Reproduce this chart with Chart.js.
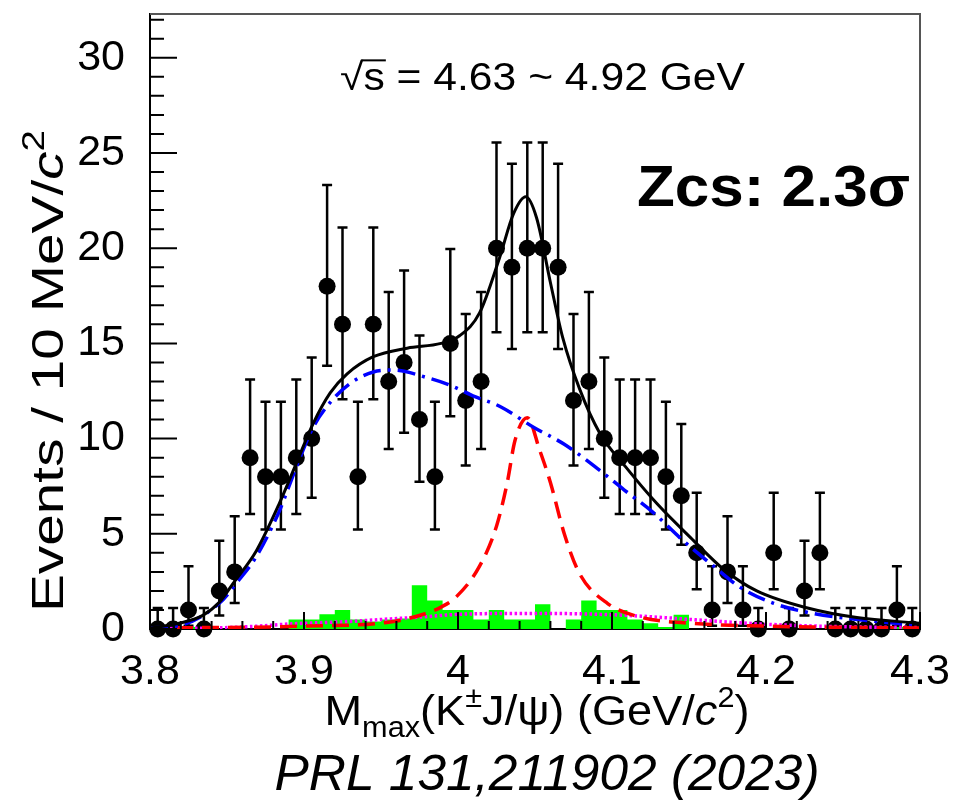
<!DOCTYPE html>
<html><head><meta charset="utf-8">
<script src="https://cdn.jsdelivr.net/npm/chart.js@4.4.1/dist/chart.umd.min.js"></script>
<style>html,body{margin:0;padding:0;background:#fff;}#wrap{width:955px;height:801px;}</style>
</head><body><div id="wrap"><canvas id="c" width="955" height="801"></canvas></div>
<script>
// ---------------- data ----------------
const binCenters = [3.805,3.815,3.825,3.835,3.845,3.855,3.865,3.875,3.885,3.895,
  3.905,3.915,3.925,3.935,3.945,3.955,3.965,3.975,3.985,3.995,
  4.005,4.015,4.025,4.035,4.045,4.055,4.065,4.075,4.085,4.095,
  4.105,4.115,4.125,4.135,4.145,4.155,4.165,4.175,4.185,4.195,
  4.205,4.215,4.225,4.235,4.245,4.255,4.265,4.275,4.285,4.295];
const counts = [0,0,1,0,2,3,9,8,8,9,
  10,18,16,8,16,13,14,11,8,15,
  12,13,20,19,20,20,19,12,13,10,
  9,9,9,8,7,4,1,3,1,0,
  4,0,2,4,0,0,0,0,1,0];
const errLow = [0,0,0.83,0,1.29,1.63,2.96,2.77,2.77,2.96,
  3.11,4.18,3.94,2.77,3.94,3.55,3.69,3.27,2.77,3.82,
  3.41,3.55,4.41,4.30,4.41,4.41,4.30,3.41,3.55,3.11,
  2.96,2.96,2.96,2.77,2.58,1.91,0.83,1.63,0.83,0,
  1.91,0,1.29,1.91,0,0,0,0,0.83,0];
const errHigh = [1.1,1.1,2.30,1.1,2.64,2.92,4.11,3.94,3.94,4.11,
  4.26,5.32,5.09,3.94,5.09,4.70,4.83,4.42,3.94,4.96,
  4.55,4.70,5.55,5.44,5.55,5.55,5.44,4.55,4.70,4.26,
  4.11,4.11,4.11,3.94,3.77,3.16,2.30,2.92,2.30,1.1,
  3.16,1.1,2.64,3.16,1.1,1.1,1.1,1.1,2.30,1.1];
const sidebandHist = [0,0,0.2,0.1,0,0,0,0,0,0,
  0.5,0.5,0.77,1.0,0.5,0.4,0.5,0.55,2.3,1.5,
  1.0,1.0,0.5,1.0,0.5,0.5,1.3,0,0.5,1.5,
  1.0,1.0,0.5,0.3,0.1,0.75,0,0,0,0,
  0,0,0,0,0,0,0,0,0.2,0.1];

const totalFitX = [3.800,3.819,3.834,3.845,3.854,3.869,3.884,3.895,3.906,3.917,3.928,3.945,3.967,3.989,4.001,4.014,4.027,4.036,4.044,4.051,4.060,4.068,4.079,4.092,4.109,4.129,4.151,4.173,4.194,4.227,4.259,4.300];
const totalFitY = [0.05,0.3,0.7,1.4,2.4,4.1,6.6,8.7,10.8,12.4,13.4,14.3,14.75,15.0,15.4,16.6,19.5,21.8,22.7,21.6,18.2,15.3,12.6,10.3,8.5,6.6,4.8,3.1,2.0,1.1,0.6,0.3];

const bkgFitX = [3.800,3.820,3.845,3.858,3.869,3.884,3.895,3.906,3.917,3.930,3.945,3.958,3.980,3.995,4.011,4.027,4.049,4.069,4.091,4.108,4.127,4.144,4.166,4.183,4.205,4.229,4.259,4.300];
const bkgFitY = [0.05,0.2,1.35,2.6,3.8,6.2,8.5,10.6,11.9,12.9,13.5,13.6,13.2,12.8,12.2,11.7,10.6,9.7,8.4,7.3,6.1,4.8,3.3,2.2,1.35,0.84,0.5,0.2];

const sigFitX = [3.800,3.900,3.956,3.980,3.989,3.999,4.014,4.025,4.032,4.037,4.045,4.053,4.060,4.069,4.079,4.097,4.118,4.151,4.200,4.300];
const sigFitY = [0.05,0.15,0.37,0.84,1.15,1.7,3.3,5.4,7.7,9.9,11.1,9.4,7.7,5.0,2.9,1.35,0.63,0.3,0.15,0.05];

const sbFitX = [3.80,3.84,3.87,3.89,3.93,3.96,3.98,4.00,4.05,4.10,4.13,4.16,4.20,4.25,4.30];
const sbFitY = [0.02,0.05,0.15,0.26,0.40,0.55,0.65,0.77,0.82,0.75,0.62,0.45,0.25,0.12,0.08];

const xTickLabels = [3.8,3.9,4.0,4.1,4.2,4.3];
const yTickLabels = [0,5,10,15,20,25,30];

// ---------------- helpers ----------------
const FONT = '"Liberation Sans", Arial, Helvetica, sans-serif';
const pts = (xs, ys) => xs.map((x, i) => ({x: x, y: ys[i]}));
const histData = sidebandHist.map((h, i) => ({x: binCenters[i] - 0.005, y: h}));
histData.push({x: 4.3, y: sidebandHist[sidebandHist.length - 1]});
const DATA_INDEX = 4;

function drawRich(ctx, segs, size, x, y, opts) {
  opts = opts || {};
  const parts = segs.map(s => {
    const sz = (s.sub || s.sup) ? size * 0.68 : size;
    const f = (s.italic ? 'italic ' : '') + (s.bold ? 'bold ' : '') + sz + 'px ' + FONT;
    ctx.font = f;
    return {t: s.t, f: f, w: ctx.measureText(s.t).width, dy: s.sub ? size * 0.28 : (s.sup ? -size * 0.42 : 0)};
  });
  const total = parts.reduce((a, p) => a + p.w, 0);
  const sx = opts.width ? opts.width / total : 1;
  ctx.save();
  ctx.translate(x, y);
  if (opts.rot) ctx.rotate(opts.rot);
  ctx.scale(sx, 1);
  ctx.fillStyle = '#000';
  ctx.textBaseline = 'alphabetic';
  ctx.textAlign = 'left';
  let cx = opts.align === 'left' ? 0 : -total / 2;
  parts.forEach(p => { ctx.font = p.f; ctx.fillText(p.t, cx, p.dy); cx += p.w; });
  ctx.restore();
}

const rootPlugin = {
  id: 'rootStyle',
  beforeDatasetDraw(chart, args) {
    if (args.index !== DATA_INDEX) return;
    const ctx = chart.ctx, xs = chart.scales.x, ys = chart.scales.y;
    ctx.save();
    ctx.strokeStyle = '#000';
    ctx.lineWidth = 2.5;
    binCenters.forEach((c, i) => {
      const px = xs.getPixelForValue(c);
      const yt = ys.getPixelForValue(counts[i] + errHigh[i]);
      const yb = ys.getPixelForValue(Math.max(0, counts[i] - errLow[i]));
      ctx.beginPath();
      ctx.moveTo(px, yt); ctx.lineTo(px, yb);
      ctx.moveTo(px - 5, yt); ctx.lineTo(px + 5, yt);
      if (errLow[i] > 0) { ctx.moveTo(px - 5, yb); ctx.lineTo(px + 5, yb); }
      ctx.stroke();
    });
    ctx.restore();
  },
  afterDraw(chart) {
    const ctx = chart.ctx, xs = chart.scales.x, ys = chart.scales.y, a = chart.chartArea;
    ctx.save();
    // top / right frame
    ctx.strokeStyle = '#555';
    ctx.lineWidth = 2;
    ctx.beginPath();
    ctx.moveTo(a.left, a.top); ctx.lineTo(a.right, a.top); ctx.lineTo(a.right, a.bottom);
    ctx.stroke();
    // inward ticks
    ctx.strokeStyle = '#000';
    ctx.lineWidth = 2;
    ctx.beginPath();
    for (let v = 0; v <= 32; v++) {
      const py = ys.getPixelForValue(v);
      const len = v % 5 === 0 ? 27 : 14;
      ctx.moveTo(a.left, py); ctx.lineTo(a.left + len, py);
    }
    for (let k = 0; k <= 25; k++) {
      const px = xs.getPixelForValue(3.8 + 0.02 * k);
      const len = k % 5 === 0 ? 17 : 8;
      ctx.moveTo(px, a.bottom); ctx.lineTo(px, a.bottom - len);
    }
    ctx.stroke();
    ctx.restore();

    // sqrt(s) label
    ctx.save();
    ctx.fillStyle = '#000';
    const fs = 38;
    ctx.font = fs + 'px ' + FONT;
    const rest = ' = 4.63 ~ 4.92 GeV';
    const wr = ctx.measureText('√').width;
    const ws = ctx.measureText('s').width;
    const wrest = ctx.measureText(rest).width;
    const total = wr + ws + wrest;
    const sx = 405 / total;
    ctx.translate(340, 90);
    ctx.scale(sx, 1);
    ctx.textBaseline = 'alphabetic';
    ctx.fillText('√', 0, 0);
    ctx.fillText('s', wr, 0);
    ctx.fillText(rest, wr + ws, 0);
    ctx.lineWidth = 2;
    ctx.beginPath();
    ctx.moveTo(wr - 2, -fs * 0.78); ctx.lineTo(wr + ws + 1, -fs * 0.78);
    ctx.stroke();
    ctx.restore();

    // Zcs significance
    drawRich(ctx, [{t: 'Zcs: 2.3σ', bold: true}], 57, 637, 206, {align: 'left', width: 273});

    // y title
    drawRich(ctx, [{t: 'Events / 10 MeV/'}, {t: 'c', italic: true}, {t: '2', sup: true}], 45, 63, 371, {rot: -Math.PI / 2, width: 482});

    // x title
    drawRich(ctx, [{t: 'M'}, {t: 'max', sub: true}, {t: '(K'}, {t: '±', sup: true}, {t: 'J/ψ) (GeV/'}, {t: 'c', italic: true}, {t: '2', sup: true}, {t: ')'}], 43, 537, 725, {width: 425});

    // reference
    drawRich(ctx, [{t: 'PRL 131,211902 (2023)', italic: true}], 50, 547, 790, {width: 545});
  }
};

const noPad = s => { s.paddingLeft = 0; s.paddingRight = 0; s.paddingTop = 0; s.paddingBottom = 0; };

new Chart(document.getElementById('c'), {
  type: 'line',
  data: {
    datasets: [
      {label: 'total', data: pts(totalFitX, totalFitY), borderColor: '#000', borderWidth: 3, pointRadius: 0, cubicInterpolationMode: 'monotone', fill: false},
      {label: 'background', data: pts(bkgFitX, bkgFitY), borderColor: '#0000ff', borderWidth: 3.5, borderDash: [18, 7, 3, 7], pointRadius: 0, cubicInterpolationMode: 'monotone', fill: false},
      {label: 'signal', data: pts(sigFitX, sigFitY), borderColor: '#ff0000', borderWidth: 3.5, borderDash: [17, 9], pointRadius: 0, cubicInterpolationMode: 'monotone', fill: false},
      {label: 'sideband fit', data: pts(sbFitX, sbFitY), borderColor: '#ff00ff', borderWidth: 3.5, borderDash: [2.5, 2.5], pointRadius: 0, cubicInterpolationMode: 'monotone', fill: false},
      {label: 'data', data: pts(binCenters, counts), showLine: false, pointRadius: 8.5, pointBackgroundColor: '#000', pointBorderColor: '#000', pointBorderWidth: 0, clip: false},
      {label: 'sideband', data: histData, stepped: 'after', borderWidth: 0, borderColor: 'rgba(0,0,0,0)', backgroundColor: '#00ff00', fill: 'origin', pointRadius: 0}
    ]
  },
  options: {
    responsive: false,
    animation: false,
    devicePixelRatio: 1,
    layout: {padding: {top: 14, right: 35, left: 0, bottom: 0}},
    plugins: {legend: {display: false}, tooltip: {enabled: false}},
    scales: {
      x: {
        type: 'linear', min: 3.8, max: 4.3,
        afterFit: s => { s.height = 172; noPad(s); },
        afterBuildTicks: s => { s.ticks = xTickLabels.map(v => ({value: v})); },
        grid: {display: false, drawTicks: false},
        border: {display: true, color: '#000', width: 2},
        ticks: {autoSkip: false, maxRotation: 0, padding: 17, color: '#000', font: {family: FONT, size: 43},
          callback: v => String(Number(v.toFixed(1)))}
      },
      y: {
        type: 'linear', min: 0, max: 32.3,
        afterFit: s => { s.width = 150; noPad(s); },
        afterBuildTicks: s => { s.ticks = yTickLabels.map(v => ({value: v})); },
        grid: {display: false, drawTicks: false},
        border: {display: true, color: '#000', width: 2},
        ticks: {autoSkip: false, padding: 25, color: '#000', font: {family: FONT, size: 43},
          callback: v => String(v)}
      }
    }
  },
  plugins: [rootPlugin]
});
</script></body></html>
